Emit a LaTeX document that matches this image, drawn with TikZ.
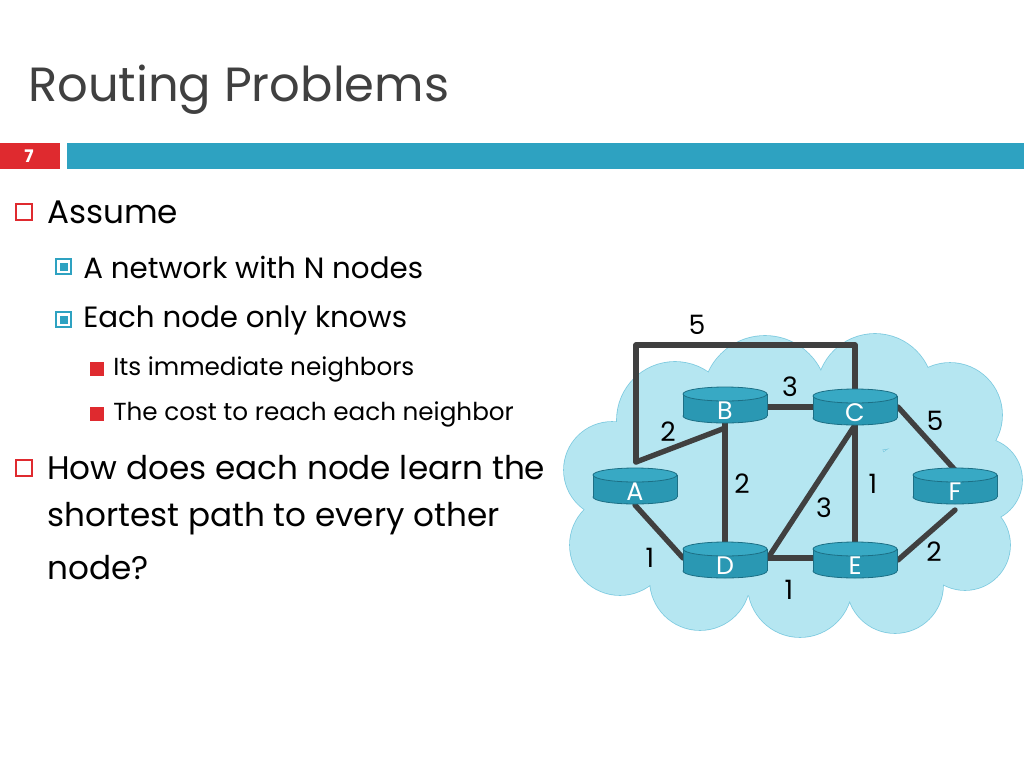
\documentclass[tikz,border=0pt]{standalone}
\usepackage{fontspec}
\setmainfont{Poppins}
\begin{document}
\begin{tikzpicture}[x=0.75pt,y=-0.75pt,
  edge/.style={line width=4pt,draw=black!75,line cap=round,line join=round},
  lbl/.style={font=\fontsize{20}{20}\selectfont,text=black,inner sep=0},
  rt/.style={font=\fontsize{19}{19}\selectfont,text=white,inner sep=0}]
\definecolor{cloudfill}{HTML}{B5E6F1}
\definecolor{cloudline}{HTML}{7FCBE0}
\definecolor{rtfill}{HTML}{2A98B3}
\definecolor{rttop}{HTML}{38A9C4}
\definecolor{rtline}{HTML}{1C6F85}
\definecolor{barblue}{HTML}{2EA2C1}
\definecolor{barred}{HTML}{DF2A2F}
\useasboundingbox (0,0) rectangle (1024,768);
\fill[white] (0,0) rectangle (1024,768);
% title and bars
\node[anchor=base west,inner sep=0,text=black!75,font=\fontsize{36}{36}\selectfont] (title) at (28,101) {Routing Problems};
\fill[barred] (0,143) rectangle (60,169);
\fill[barblue] (67,143) rectangle (1024,169);
\node[text=white,font=\fontsize{13}{13}\selectfont\bfseries] (num) at (29,156) {7};
% bullets
\tikzset{t1/.style={anchor=west,inner sep=0,font=\fontsize{24.5}{24.5}\selectfont},
t2/.style={anchor=west,inner sep=0,font=\fontsize{22}{22}\selectfont},
t3/.style={anchor=west,inner sep=0,font=\fontsize{18.5}{18.5}\selectfont}}
\draw[barred,line width=1pt] (16,204) rectangle (32,220);
\node[t1] (a1) at (47,212) {Assume};
\draw[barblue,line width=1.6pt,fill=white] (56,259) rectangle (71,274);
\fill[barblue] (59.5,262.5) rectangle (67.5,270.5);
\node[t2] (a2) at (83,267) {A network with N nodes};
\draw[barblue,line width=1.6pt,fill=white] (56,312) rectangle (71,327);
\fill[barblue] (59.5,315.5) rectangle (67.5,323.5);
\node[t2] (a3) at (83,320) {Each node only knows};
\fill[barred] (90,362) rectangle (104,376);
\node[t3] (a4) at (113,369) {Its immediate neighbors};
\fill[barred] (90,407) rectangle (104,421);
\node[t3] (a5) at (113,414) {The cost to reach each neighbor};
\draw[barred,line width=1pt] (16,460) rectangle (32,476);
\node[t1] (b1) at (47,468) {How does each node learn the};
\node[t1] (b2) at (47,519) {shortest path to every other};
\node[t1] (b3) at (47,568) {node?};
% cloud
\def\cloud{(612,470) circle (48) (620,545) circle (50) (675,420) circle (58)
 (765,398) circle (62) (875,392) circle (58) (950,415) circle (52)
 (980,480) circle (42) (965,545) circle (45) (895,585) circle (48)
 (800,585) circle (52) (700,580) circle (50) (780,490) circle (110)
 (670,500) circle (60) (920,500) circle (60)}
\draw[cloudline,line width=1.2pt,fill=cloudfill] \cloud;
\fill[cloudfill] \cloud;
% routers
\newcommand\router[3]{%
 \fill[rtfill,draw=rtline,line width=0.6pt] (#1,#2+11) ellipse[x radius=42,y radius=7];
 \fill[rtfill] (#1-42,#2-11) rectangle (#1+42,#2+11);
 \draw[rtline,line width=0.6pt] (#1-42,#2-11) -- (#1-42,#2+11) (#1+42,#2-11) -- (#1+42,#2+11);
 \fill[rttop,draw=rtline,line width=0.6pt] (#1,#2-11) ellipse[x radius=42,y radius=7];
 \node[rt] (#3) at (#1,#2+6) {#3};}
% edges first
\coordinate (ctop) at (855,392);
\coordinate (atop) at (636,462);
\coordinate (k1) at (636,345);
\coordinate (k2) at (855,345);
\draw[edge] (atop) -- (k1) -- (k2) -- (ctop);
\draw[edge] (atop) -- (725,428);
\draw[edge] (725,420) -- (725,545);
\draw[edge] (768,407) -- (813,407);
\draw[edge] (855,425) -- (768,558);
\draw[edge] (855,425) -- (855,545);
\draw[edge] (768,558) -- (813,558);
\draw[edge] (635,505) -- (683,558);
\draw[edge] (898,407) -- (955,470);
\draw[edge] (898,560) -- (955,510);
\router{725}{405}{B}
\router{855}{407}{C}
\router{635}{486}{A}
\router{955}{486}{F}
\router{725}{560}{D}
\router{855}{560}{E}
% labels
\node[lbl] (l1) at (697,325) {5};
\node[lbl] (l2) at (790,387) {3};
\node[lbl] (l3) at (668,432) {2};
\node[lbl] (l4) at (935,421) {5};
\node[lbl] (l5) at (742,484) {2};
\node[lbl] (l6) at (873,484) {1};
\node[lbl] (l7) at (824,508) {3};
\node[lbl] (l8) at (650,558) {1};
\node[lbl] (l9) at (934,552) {2};
\node[lbl] (l10) at (789,590) {1};
\end{tikzpicture}
\end{document}
